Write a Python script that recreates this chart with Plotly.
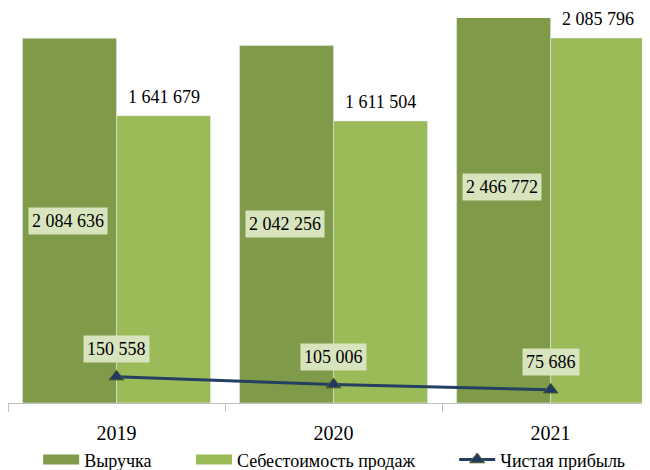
import plotly.graph_objects as go

years = ["2019", "2020", "2021"]
revenue = [2084636, 2042256, 2466772]
cost = [1641679, 1611504, 2085796]
profit = [150558, 105006, 75686]


def fmt(v: int) -> str:
    return f"{v:,}".replace(",", " ")


SERIF = "Liberation Serif, DejaVu Serif, serif"
LABEL_BG = "#D7E4BD"
C_REV = "#7F9A48"
C_COST = "#9BBB59"

fig = go.Figure()
fig.add_trace(go.Bar(
    x=years, y=revenue, name="Выручка",
    marker_color=C_REV, showlegend=False,
))
fig.add_trace(go.Bar(
    x=years, y=cost, name="Себестоимость продаж",
    marker_color=C_COST, showlegend=False,
))
fig.add_trace(go.Scatter(
    x=years, y=profit, name="Чистая прибыль",
    mode="lines+markers", legend="legend3",
    line=dict(color="#243F60", width=3),
    marker=dict(symbol="triangle-up", size=13, color="#1F3864",
                line=dict(color="#4F6228", width=1)),
))
# широкие прямоугольные значки легенды, как в Excel
fig.add_trace(go.Scatter(
    x=[None], y=[None], mode="lines", name="Выручка", legend="legend",
    line=dict(color=C_REV, width=11), hoverinfo="skip",
))
fig.add_trace(go.Scatter(
    x=[None], y=[None], mode="lines", name="Себестоимость продаж", legend="legend2",
    line=dict(color=C_COST, width=11), hoverinfo="skip",
))

# подписи данных (x по номеру категории — "2019" иначе читается как число)
for i, v in enumerate(revenue):
    fig.add_annotation(
        x=i, y=v / 2, text=fmt(v), showarrow=False, xshift=-49,
        bgcolor=LABEL_BG, borderpad=3,
        font=dict(family=SERIF, size=18, color="black"),
    )
for i, v in enumerate(cost):
    fig.add_annotation(
        x=i, y=v, text=fmt(v), showarrow=False, xshift=47, yshift=19,
        font=dict(family=SERIF, size=18, color="black"),
    )
for i, v in enumerate(profit):
    fig.add_annotation(
        x=i, y=v, text=fmt(v), showarrow=False, yshift=28,
        bgcolor=LABEL_BG, borderpad=3,
        font=dict(family=SERIF, size=18, color="black"),
    )

legend_style = dict(
    orientation="h", xanchor="left",
    yref="container", y=0.022, yanchor="middle",
    font=dict(family=SERIF, size=18, color="black"),
    bgcolor="rgba(0,0,0,0)", itemwidth=36,
)

fig.update_layout(
    width=642, height=462,
    margin=dict(l=0, r=0, t=10, b=67),
    paper_bgcolor="white", plot_bgcolor="white",
    barmode="group", bargap=0.134, bargroupgap=0,
    showlegend=True,
    legend=dict(legend_style, x=0.047),
    legend2=dict(legend_style, x=0.285),
    legend3=dict(legend_style, x=0.695),
    xaxis=dict(
        type="category", range=[-0.5, 2.458], automargin=False,
        showline=True, linecolor="#BFBFBF", linewidth=1,
        ticks="outside", tickson="boundaries", ticklen=8, tickcolor="#BFBFBF",
        ticklabelstandoff=12,
        showgrid=False,
        tickfont=dict(family=SERIF, size=20, color="black"),
    ),
    yaxis=dict(
        range=[0, 2200000], showticklabels=False, ticks="",
        showgrid=False, zeroline=False, showline=False, automargin=False,
    ),
)

fig.write_html("out.html")
